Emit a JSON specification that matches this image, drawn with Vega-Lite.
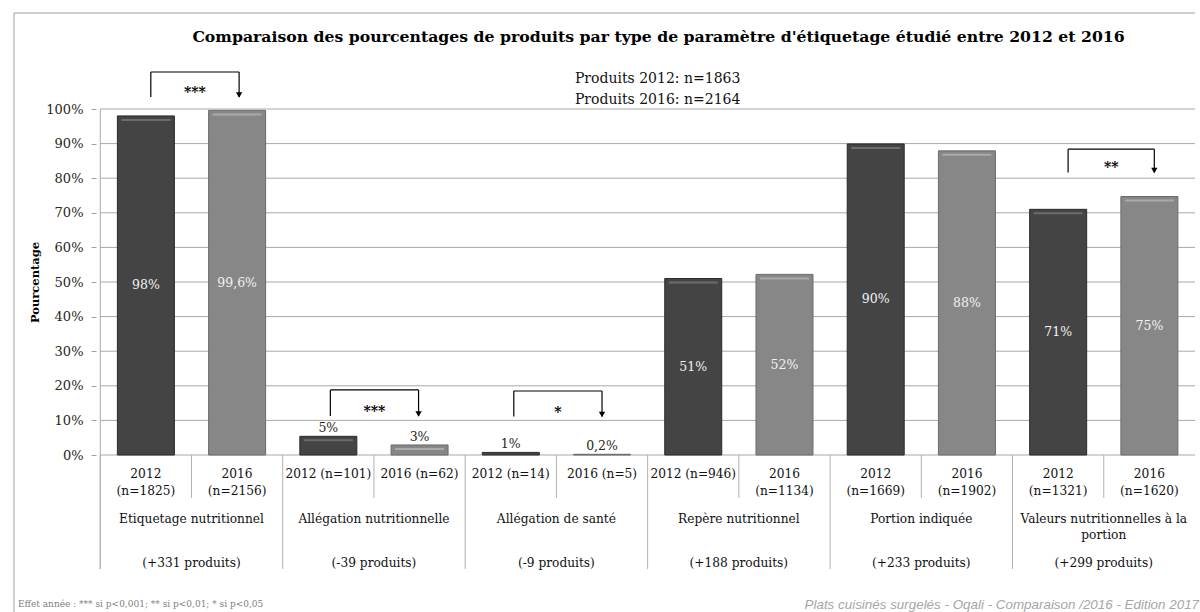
{
  "$schema": "https://vega.github.io/schema/vega-lite/v6.json",
  "width": 1191,
  "height": 599,
  "autosize": {"type": "none"},
  "padding": {"left": 9, "top": 13, "right": 0, "bottom": 0},
  "background": "white",
  "title": {
    "text": "Comparaison des pourcentages de produits par type de paramètre d'étiquetage étudié entre 2012 et 2016",
    "font": "DejaVu Serif",
    "fontSize": 15.7,
    "fontWeight": "bold",
    "color": "#000000",
    "anchor": "middle",
    "frame": "group",
    "baseline": "alphabetic",
    "offset": -28,
    "dx": 54,
    "dy": 17
  },
  "config": {"view": {"stroke": null}, "font": "DejaVu Serif"},
  "datasets": {
    "bars": [
      {"cat": "Etiquetage nutritionnel", "year": "2012", "pos": 0.5, "value": 0.98, "label": "98%", "xlabel": "2012\n(n=1825)"},
      {"cat": "Etiquetage nutritionnel", "year": "2016", "pos": 1.5, "value": 0.996, "label": "99,6%", "xlabel": "2016\n(n=2156)"},
      {"cat": "Allégation nutritionnelle", "year": "2012", "pos": 2.5, "value": 0.054, "label": "5%", "xlabel": "2012 (n=101)"},
      {"cat": "Allégation nutritionnelle", "year": "2016", "pos": 3.5, "value": 0.029, "label": "3%", "xlabel": "2016 (n=62)"},
      {"cat": "Allégation de santé", "year": "2012", "pos": 4.5, "value": 0.0075, "label": "1%", "xlabel": "2012 (n=14)"},
      {"cat": "Allégation de santé", "year": "2016", "pos": 5.5, "value": 0.002, "label": "0,2%", "xlabel": "2016 (n=5)"},
      {"cat": "Repère nutritionnel", "year": "2012", "pos": 6.5, "value": 0.51, "label": "51%", "xlabel": "2012 (n=946)"},
      {"cat": "Repère nutritionnel", "year": "2016", "pos": 7.5, "value": 0.522, "label": "52%", "xlabel": "2016\n(n=1134)"},
      {"cat": "Portion indiquée", "year": "2012", "pos": 8.5, "value": 0.899, "label": "90%", "xlabel": "2012\n(n=1669)"},
      {"cat": "Portion indiquée", "year": "2016", "pos": 9.5, "value": 0.879, "label": "88%", "xlabel": "2016\n(n=1902)"},
      {"cat": "Valeurs nutritionnelles à la portion", "year": "2012", "pos": 10.5, "value": 0.71, "label": "71%", "xlabel": "2012\n(n=1321)"},
      {"cat": "Valeurs nutritionnelles à la portion", "year": "2016", "pos": 11.5, "value": 0.747, "label": "75%", "xlabel": "2016\n(n=1620)"}
    ],
    "cats": [
      {"center": 1, "name": "Etiquetage nutritionnel", "diff": "(+331 produits)"},
      {"center": 3, "name": "Allégation nutritionnelle", "diff": "(-39 produits)"},
      {"center": 5, "name": "Allégation de santé", "diff": "(-9 produits)"},
      {"center": 7, "name": "Repère nutritionnel", "diff": "(+188 produits)"},
      {"center": 9, "name": "Portion indiquée", "diff": "(+233 produits)"},
      {"center": 11, "name": "Valeurs nutritionnelles à la\nportion", "diff": "(+299 produits)"}
    ],
    "brackets": [
      {"x1": 0.554, "x2": 1.522, "top": 1.107, "bottom": 1.035, "stars": "***"},
      {"x1": 2.522, "x2": 3.489, "top": 0.188, "bottom": 0.113, "stars": "***"},
      {"x1": 4.533, "x2": 5.5, "top": 0.185, "bottom": 0.111, "stars": "*"},
      {"x1": 10.609, "x2": 11.554, "top": 0.884, "bottom": 0.8165, "stars": "**"}
    ],
    "grid": [
      {"g": 0}, {"g": 0.1}, {"g": 0.2}, {"g": 0.3}, {"g": 0.4}, {"g": 0.5},
      {"g": 0.6}, {"g": 0.7}, {"g": 0.8}, {"g": 0.9}, {"g": 1}
    ]
  },
  "layer": [
    {
      "data": {"name": "grid"},
      "mark": {"type": "rule", "color": "#a8a8a8", "strokeWidth": 1},
      "encoding": {
        "y": {
          "field": "g", "type": "quantitative",
          "scale": {"domain": [-0.453757, 1.277457], "nice": false, "zero": false},
          "axis": {
            "title": "Pourcentage",
            "values": [0, 0.1, 0.2, 0.3, 0.4, 0.5, 0.6, 0.7, 0.8, 0.9, 1],
            "format": ".0%",
            "grid": false,
            "domain": false,
            "offset": -87,
            "tickSize": 5,
            "tickColor": "#a0a0a0",
            "labelPadding": 8,
            "labelFont": "DejaVu Serif",
            "labelFontSize": 13,
            "labelColor": "#262626",
            "titleFont": "DejaVu Serif",
            "titleFontSize": 11.5,
            "titleFontWeight": "bold",
            "titleColor": "#000000",
            "titleX": -61,
            "titleY": 269,
            "titleAngle": -90,
            "titleAlign": "center",
            "titleBaseline": "middle"
          }
        },
        "x": {"datum": 0, "type": "quantitative", "scale": {"domain": [-0.945652, 12], "nice": false, "zero": false}, "axis": null},
        "x2": {"datum": 12}
      }
    },
    {
      "data": {"values": [{}]},
      "mark": {"type": "rule", "color": "#a0a0a0", "strokeWidth": 1},
      "encoding": {
        "x": {"datum": -0.945652, "type": "quantitative", "axis": null},
        "y": {"datum": 1.277457, "type": "quantitative"},
        "y2": {"datum": -0.453757}
      }
    },
    {
      "data": {"values": [{}]},
      "mark": {"type": "rule", "color": "#a0a0a0", "strokeWidth": 1},
      "encoding": {
        "x": {"datum": -0.945652, "type": "quantitative", "axis": null},
        "x2": {"datum": 12},
        "y": {"datum": 1.277457, "type": "quantitative"}
      }
    },
    {
      "data": {"values": [{}]},
      "mark": {"type": "rule", "color": "#a8a8a8", "strokeWidth": 1},
      "encoding": {
        "x": {"datum": 0, "type": "quantitative", "axis": null},
        "y": {"datum": 1, "type": "quantitative"},
        "y2": {"datum": -0.3295}
      }
    },
    {
      "data": {"name": "cats"},
      "transform": [{"calculate": "datum.center - 1", "as": "left"}],
      "mark": {"type": "rule", "color": "#b0b0b0", "strokeWidth": 1},
      "encoding": {
        "x": {"field": "left", "type": "quantitative", "axis": null},
        "y": {"datum": 0, "type": "quantitative"},
        "y2": {"datum": -0.3295}
      }
    },
    {
      "data": {"name": "cats"},
      "mark": {"type": "rule", "color": "#b0b0b0", "strokeWidth": 1},
      "encoding": {
        "x": {"field": "center", "type": "quantitative", "axis": null},
        "y": {"datum": 0, "type": "quantitative"},
        "y2": {"datum": -0.1243}
      }
    },
    {
      "data": {"name": "bars"},
      "mark": {"type": "bar", "orient": "vertical", "size": 57, "strokeWidth": 1},
      "encoding": {
        "x": {"field": "pos", "type": "quantitative", "axis": null},
        "y": {"field": "value", "type": "quantitative"},
        "y2": {"datum": 0},
        "color": {"field": "year", "type": "nominal", "scale": {"domain": ["2012", "2016"], "range": ["#444444", "#878787"]}, "legend": null},
        "stroke": {"field": "year", "type": "nominal", "scale": {"domain": ["2012", "2016"], "range": ["#2a2a2a", "#6a6a6a"]}, "legend": null}
      }
    },
    {
      "data": {"name": "bars"},
      "transform": [{"filter": "datum.value >= 0.03 && datum.year == '2012'"}],
      "mark": {"type": "tick", "orient": "horizontal", "size": 49, "thickness": 2, "yOffset": 4, "color": "#6c6c6c", "opacity": 1},
      "encoding": {
        "x": {"field": "pos", "type": "quantitative", "axis": null},
        "y": {"field": "value", "type": "quantitative"}
      }
    },
    {
      "data": {"name": "bars"},
      "transform": [{"filter": "datum.value >= 0.02 && datum.year == '2016'"}],
      "mark": {"type": "tick", "orient": "horizontal", "size": 49, "thickness": 2, "yOffset": 4, "color": "#aaaaaa", "opacity": 1},
      "encoding": {
        "x": {"field": "pos", "type": "quantitative", "axis": null},
        "y": {"field": "value", "type": "quantitative"}
      }
    },
    {
      "data": {"name": "bars"},
      "transform": [{"filter": "datum.value >= 0.5"}, {"calculate": "datum.value / 2", "as": "mid"}],
      "mark": {"type": "text", "fontSize": 12.5, "color": "#f2f2f2", "baseline": "middle", "align": "center"},
      "encoding": {
        "x": {"field": "pos", "type": "quantitative", "axis": null},
        "y": {"field": "mid", "type": "quantitative"},
        "text": {"field": "label"}
      }
    },
    {
      "data": {"name": "bars"},
      "transform": [{"filter": "datum.value < 0.5"}],
      "mark": {"type": "text", "fontSize": 12.5, "color": "#262626", "baseline": "bottom", "align": "center", "dy": -1},
      "encoding": {
        "x": {"field": "pos", "type": "quantitative", "axis": null},
        "y": {"field": "value", "type": "quantitative"},
        "text": {"field": "label"}
      }
    },
    {
      "data": {"name": "bars"},
      "mark": {"type": "text", "fontSize": 12.2, "color": "#111111", "baseline": "top", "align": "center", "lineBreak": "\n", "lineHeight": 17},
      "encoding": {
        "x": {"field": "pos", "type": "quantitative", "axis": null},
        "y": {"datum": -0.0363, "type": "quantitative"},
        "text": {"field": "xlabel"}
      }
    },
    {
      "data": {"name": "cats"},
      "mark": {"type": "text", "fontSize": 12.2, "color": "#111111", "baseline": "top", "align": "center", "lineBreak": "\n", "lineHeight": 16},
      "encoding": {
        "x": {"field": "center", "type": "quantitative", "axis": null},
        "y": {"datum": -0.1664, "type": "quantitative"},
        "text": {"field": "name"}
      }
    },
    {
      "data": {"name": "cats"},
      "mark": {"type": "text", "fontSize": 12.2, "color": "#111111", "baseline": "top", "align": "center"},
      "encoding": {
        "x": {"field": "center", "type": "quantitative", "axis": null},
        "y": {"datum": -0.2935, "type": "quantitative"},
        "text": {"field": "diff"}
      }
    },
    {
      "data": {"name": "brackets"},
      "mark": {"type": "rule", "color": "#000000", "strokeWidth": 1.2},
      "encoding": {
        "x": {"field": "x1", "type": "quantitative", "axis": null},
        "y": {"field": "top", "type": "quantitative"},
        "y2": {"field": "bottom"}
      }
    },
    {
      "data": {"name": "brackets"},
      "mark": {"type": "rule", "color": "#000000", "strokeWidth": 1.2},
      "encoding": {
        "x": {"field": "x1", "type": "quantitative", "axis": null},
        "x2": {"field": "x2"},
        "y": {"field": "top", "type": "quantitative"}
      }
    },
    {
      "data": {"name": "brackets"},
      "mark": {"type": "rule", "color": "#000000", "strokeWidth": 1.2},
      "encoding": {
        "x": {"field": "x2", "type": "quantitative", "axis": null},
        "y": {"field": "top", "type": "quantitative"},
        "y2": {"field": "bottom"}
      }
    },
    {
      "data": {"name": "brackets"},
      "mark": {"type": "point", "shape": "triangle-down", "filled": true, "color": "#000000", "size": 40, "opacity": 1, "yOffset": -2},
      "encoding": {
        "x": {"field": "x2", "type": "quantitative", "axis": null},
        "y": {"field": "bottom", "type": "quantitative"}
      }
    },
    {
      "data": {"name": "brackets"},
      "transform": [{"calculate": "(datum.x1 + datum.x2) / 2", "as": "mid"}],
      "mark": {"type": "text", "fontSize": 14, "fontWeight": "bold", "color": "#000000", "baseline": "alphabetic", "align": "center"},
      "encoding": {
        "x": {"field": "mid", "type": "quantitative", "axis": null},
        "y": {"field": "bottom", "type": "quantitative"},
        "text": {"field": "stars"}
      }
    },
    {
      "data": {"values": [{"t": "Produits 2012: n=1863\nProduits 2016: n=2164"}]},
      "mark": {"type": "text", "fontSize": 14, "color": "#111111", "baseline": "top", "align": "center", "lineBreak": "\n", "lineHeight": 21},
      "encoding": {
        "x": {"datum": 6.11, "type": "quantitative", "axis": null},
        "y": {"datum": 1.1066, "type": "quantitative"},
        "text": {"field": "t"}
      }
    },
    {
      "data": {"values": [{"t": "Effet année : *** si p<0,001; ** si p<0,01; * si p<0,05"}]},
      "mark": {"type": "text", "fontSize": 9, "color": "#808080", "baseline": "alphabetic", "align": "left"},
      "encoding": {
        "x": {"datum": -0.902, "type": "quantitative", "axis": null},
        "y": {"datum": -0.4379, "type": "quantitative"},
        "text": {"field": "t"}
      }
    },
    {
      "data": {"values": [{"t": "Plats cuisinés surgelés - Oqali - Comparaison /2016 - Edition 2017"}]},
      "mark": {"type": "text", "font": "Liberation Sans", "fontStyle": "italic", "fontSize": 13.4, "color": "#a6a6a6", "baseline": "alphabetic", "align": "left"},
      "encoding": {
        "x": {"datum": 7.72, "type": "quantitative", "axis": null},
        "y": {"datum": -0.4451, "type": "quantitative"},
        "text": {"field": "t"}
      }
    }
  ]
}
